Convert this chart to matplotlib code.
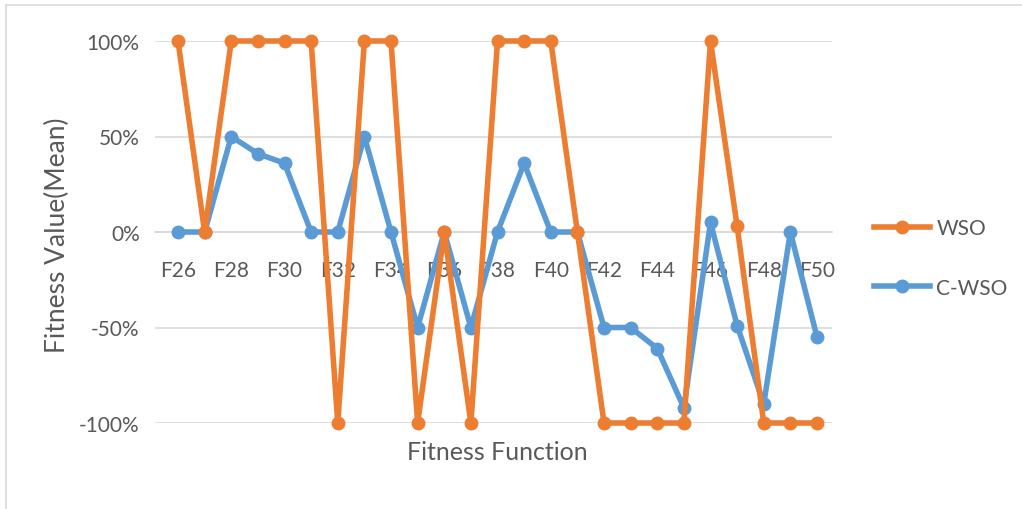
import matplotlib.pyplot as plt
import matplotlib.ticker as ticker
from matplotlib.lines import Line2D

plt.rcParams['font.family'] = ['Lato', 'DejaVu Sans']
plt.rcParams['axes.unicode_minus'] = False

functions = ['F%d' % i for i in range(26, 51)]
wso = [100, 0, 100, 100, 100, 100, -100, 100, 100, -100, 0, -100, 100,
       100, 100, 0, -100, -100, -100, -100, 100, 3, -100, -100, -100]
c_wso = [0, 0, 50, 41, 36, 0, 0, 50, 0, -50, 0, -50, 0,
         36, 0, 0, -50, -50, -61, -92, 5, -49, -90, 0, -55]

orange = '#ED7D31'
blue = '#5B9BD5'
grey = '#595959'
lw, ms = 4.0, 9

fig = plt.figure(figsize=(10.22, 5.10), dpi=100)
ax = fig.add_axes([155 / 1022, 86 / 510, 677 / 1022, 382 / 510])

x = list(range(len(functions)))
ax.plot(x, [v / 100 for v in c_wso], color=blue, lw=lw, marker='o',
        ms=ms, clip_on=False, zorder=3, label='C-WSO')
ax.plot(x, [v / 100 for v in wso], color=orange, lw=lw, marker='o',
        ms=ms, clip_on=False, zorder=4, label='WSO')

ax.set_ylim(-1, 1)
ax.set_xlim(-23 / 26.625, 24 + 15 / 26.625)
ax.yaxis.set_major_locator(ticker.MultipleLocator(0.5))
ax.yaxis.set_major_formatter(ticker.PercentFormatter(1.0, decimals=0))
ax.set_xticks(x[::2])
ax.set_xticklabels(functions[::2])

ax.grid(axis='y', color='#D9D9D9', lw=1.2)
ax.set_axisbelow(True)
for s in ['top', 'right', 'left']:
    ax.spines[s].set_visible(False)
ax.spines['bottom'].set_position(('data', 0))
ax.spines['bottom'].set_color('#D9D9D9')
ax.spines['bottom'].set_linewidth(1.2)
ax.tick_params(axis='x', length=0, pad=20, labelsize=15, labelcolor=grey)
ax.tick_params(axis='y', length=0, pad=11, labelsize=15, labelcolor=grey)

fig.text(57 / 1022, 1 - 235 / 510, 'Fitness Value(Mean)', rotation=90,
         ha='center', va='center', fontsize=19, color=grey)
fig.text(497 / 1022, 1 - 453 / 510, 'Fitness Function', ha='center',
         va='center', fontsize=18, color=grey)

handles = [Line2D([], [], color=orange, lw=lw, marker='o', ms=ms),
           Line2D([], [], color=blue, lw=lw, marker='o', ms=ms)]
fig.legend(handles, ['WSO', 'C-WSO'], loc='center left',
           bbox_to_anchor=(855 / 1022, 1 - 259 / 510), frameon=False,
           fontsize=15, labelcolor=grey, handlelength=2.7,
           handletextpad=0.3, labelspacing=1.9)

# thin chart border on the left and top
fig.add_artist(Line2D([6 / 1022, 6 / 1022], [0, 1 - 6 / 510],
                      color='#D9D9D9', lw=1.2))
fig.add_artist(Line2D([6 / 1022, 1], [1 - 6 / 510, 1 - 6 / 510],
                      color='#D9D9D9', lw=1.2))

plt.savefig('out.png', dpi=100)
